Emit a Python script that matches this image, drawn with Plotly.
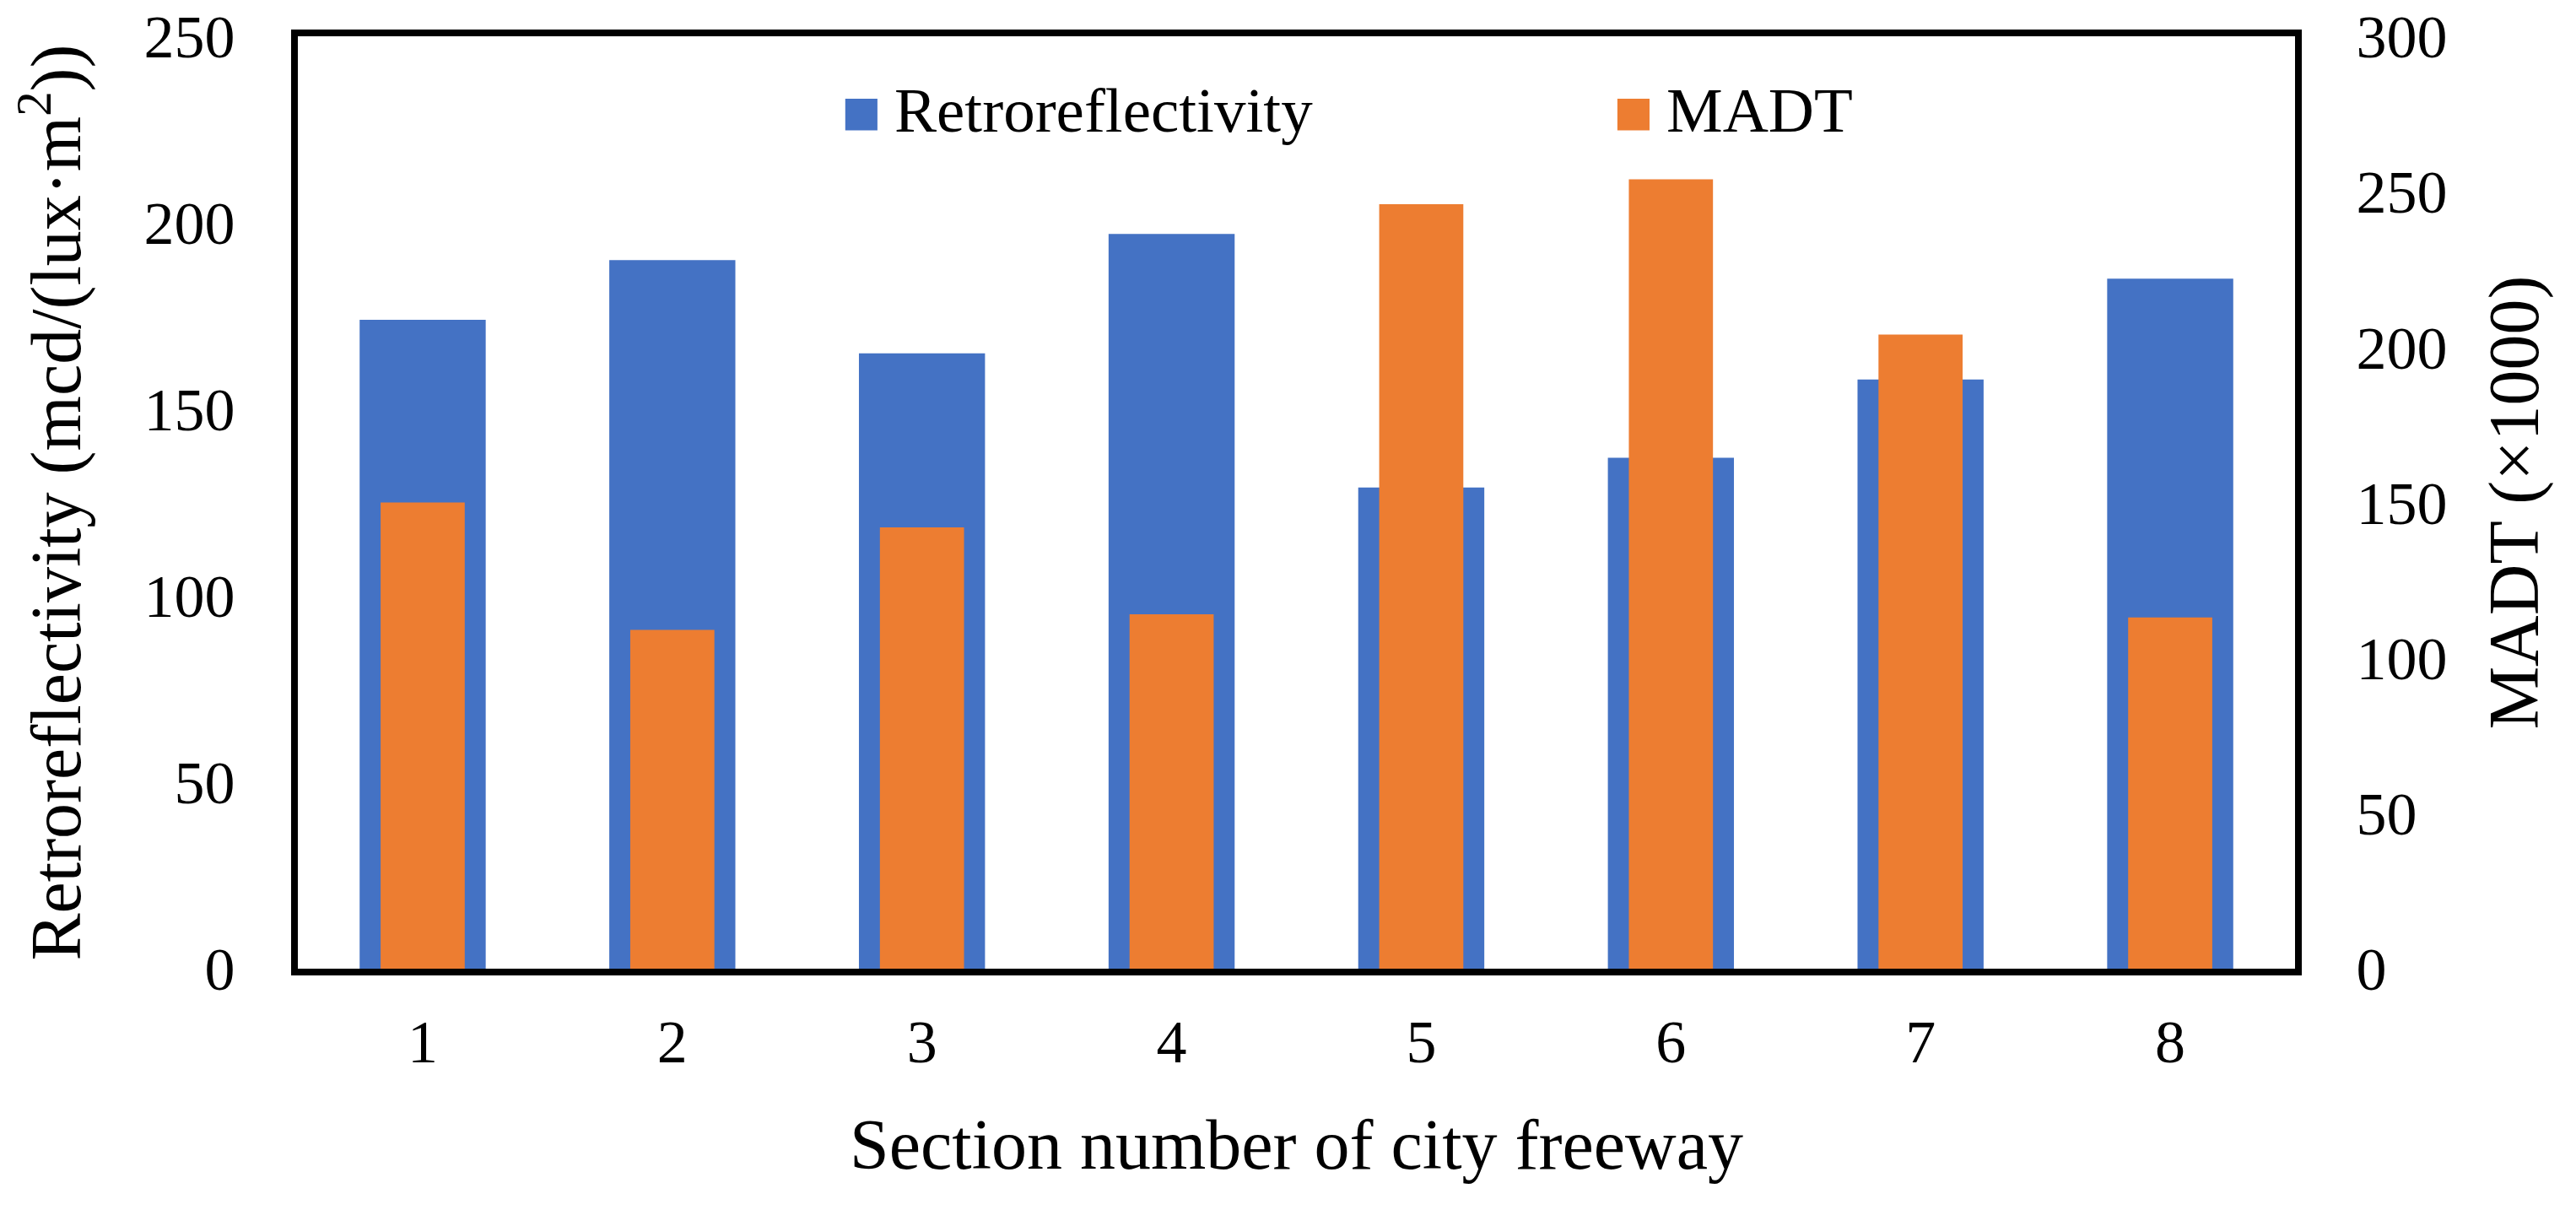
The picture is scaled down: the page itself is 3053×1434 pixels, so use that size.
import plotly.graph_objects as go

sections = ["1", "2", "3", "4", "5", "6", "7", "8"]
retro = [174, 190, 165, 197, 129, 137, 158, 185]
madt = [150, 109, 142, 114, 246, 254, 204, 113]

blue = "#4472C4"
orange = "#ED7D31"
font = "Liberation Serif"

fig = go.Figure()
fig.add_trace(go.Bar(x=sections, y=retro, name="Retroreflectivity",
                     marker=dict(color=blue, line=dict(width=0)), width=0.505))
fig.add_trace(go.Bar(x=sections, y=madt, name="MADT", yaxis="y2",
                     marker=dict(color=orange, line=dict(width=0)), width=0.337))

# legend drawn by hand so the swatches can be as big as in the original
legend = [("Retroreflectivity", blue, 0.2741), ("MADT", orange, 0.6607)]
for label, col, x0 in legend:
    fig.add_shape(type="rect", xref="paper", yref="paper",
                  x0=x0, x1=x0 + 0.0161, y0=0.899, y1=0.933,
                  fillcolor=col, line=dict(width=0))
    fig.add_annotation(text=label, xref="paper", yref="paper",
                       x=x0 + 0.0237, y=0.921, xanchor="left", yanchor="middle",
                       showarrow=False, font=dict(size=75, color="black", family=font))

axis_common = dict(showgrid=False, zeroline=False, showline=True, linecolor="black",
                   linewidth=8, ticks="", automargin=False, ticklabeloverflow="allow",
                   tickfont=dict(size=72, family=font, color="black"))

fig.update_layout(
    width=3053, height=1434,
    margin=dict(l=345, r=341, t=35, b=294),
    paper_bgcolor="white", plot_bgcolor="white",
    barmode="overlay", showlegend=False,
    font=dict(family=font, color="black"),
    xaxis=dict(**axis_common, mirror=True, ticklabelstandoff=17,
               title=dict(text="Section number of city freeway", standoff=55,
                          font=dict(size=84, family=font))),
    yaxis=dict(**axis_common, range=[0, 250], dtick=50, ticklabelstandoff=52,
               title=dict(text="Retroreflectivity (mcd/(lux·m<sup>2</sup>))", standoff=125,
                          font=dict(size=84, family=font))),
    yaxis2=dict(**axis_common, range=[0, 300], dtick=50, overlaying="y", side="right",
                ticklabelstandoff=50,
                title=dict(text="MADT (×1000)", standoff=53,
                           font=dict(size=84, family=font))),
)

fig.write_html("out.html")
